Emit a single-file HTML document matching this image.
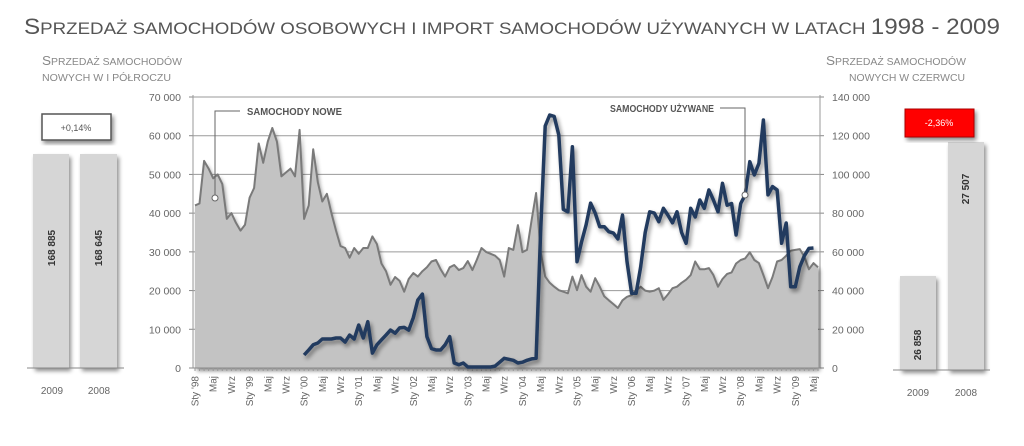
<!DOCTYPE html>
<html><head><meta charset="utf-8">
<style>
html,body{margin:0;padding:0;background:#fff;}
body{width:1024px;height:441px;overflow:hidden;font-family:"Liberation Sans","DejaVu Sans",sans-serif;}
svg text{font-family:"Liberation Sans","DejaVu Sans",sans-serif;}
</style></head>
<body>
<svg id="c" width="1024" height="441" viewBox="0 0 1024 441" xmlns="http://www.w3.org/2000/svg">
<defs>
<filter id="sh" x="-10%" y="-10%" width="130%" height="130%"><feGaussianBlur in="SourceAlpha" stdDeviation="2"/><feOffset dx="2" dy="3" result="b"/><feComponentTransfer><feFuncA type="linear" slope="0.45"/></feComponentTransfer><feMerge><feMergeNode/><feMergeNode in="SourceGraphic"/></feMerge></filter>
</defs>
<text x="24" y="34" fill="#555" font-size="17" textLength="976" lengthAdjust="spacingAndGlyphs"><tspan font-size="22">S</tspan>PRZEDAŻ SAMOCHODÓW OSOBOWYCH I IMPORT SAMOCHODÓW UŻYWANYCH W LATACH <tspan font-size="22">1998 - 2009</tspan></text>

<g>
<text x="42" y="65" fill="#888" font-size="10" textLength="140" lengthAdjust="spacingAndGlyphs"><tspan font-size="13">S</tspan>PRZEDAŻ SAMOCHODÓW</text>
<text x="42" y="81" fill="#888" font-size="10" textLength="129" lengthAdjust="spacingAndGlyphs">NOWYCH W I PÓŁROCZU</text>
<rect x="42" y="114" width="69" height="26" fill="#fff" stroke="#555" stroke-width="1.5" filter="url(#sh)"/>
<text x="76" y="131" fill="#555" font-size="9" text-anchor="middle">+0,14%</text>
<rect x="33" y="154" width="36" height="214" fill="#d6d6d6" filter="url(#sh)"/>
<rect x="80" y="154" width="37" height="214" fill="#d6d6d6" filter="url(#sh)"/>
<line x1="27" y1="368" x2="124" y2="368" stroke="#888" stroke-width="1"/>
<text transform="translate(55,248) rotate(-90)" fill="#333" font-size="10" font-weight="bold" text-anchor="middle">168 885</text>
<text transform="translate(102,248) rotate(-90)" fill="#333" font-size="10" font-weight="bold" text-anchor="middle">168 645</text>
<text x="52" y="394" fill="#666" font-size="10" text-anchor="middle">2009</text>
<text x="99" y="394" fill="#666" font-size="10" text-anchor="middle">2008</text>
</g>

<g>
<text x="826" y="65" fill="#888" font-size="10" textLength="140" lengthAdjust="spacingAndGlyphs"><tspan font-size="13">S</tspan>PRZEDAŻ SAMOCHODÓW</text>
<text x="849" y="81" fill="#888" font-size="10" textLength="116" lengthAdjust="spacingAndGlyphs">NOWYCH W CZERWCU</text>
<rect x="900" y="276" width="36" height="94" fill="#d6d6d6" filter="url(#sh)"/>
<rect x="948" y="142" width="36" height="228" fill="#d6d6d6" filter="url(#sh)"/>
<rect x="905" y="109" width="69" height="28" fill="#f00" stroke="#a00" stroke-width="1" filter="url(#sh)"/>
<text x="939" y="126" fill="#fff" font-size="9" text-anchor="middle">-2,36%</text>
<line x1="893" y1="370" x2="990" y2="370" stroke="#888" stroke-width="1"/>
<text transform="translate(921,345) rotate(-90)" fill="#333" font-size="10" font-weight="bold" text-anchor="middle">26 858</text>
<text transform="translate(969,189) rotate(-90)" fill="#333" font-size="10" font-weight="bold" text-anchor="middle">27 507</text>
<text x="918" y="396" fill="#666" font-size="10" text-anchor="middle">2009</text>
<text x="966" y="396" fill="#666" font-size="10" text-anchor="middle">2008</text>
</g>

<g id="plot"></g>
</svg>
<script>
const newCars = [
42000,42500,53500,51500,49000,50000,47500,38500,40000,37500,35500,37000,
44000,46500,58000,53000,58500,62000,58500,49500,50500,51500,49500,61500,
38500,42000,56500,48000,43000,45000,40000,35500,31500,31000,28500,31000,
29500,31000,31000,34000,32000,27000,25000,21500,23500,22500,19700,23000,
24500,23600,25000,26000,27500,27900,25500,23600,26000,26600,25300,25800,
27600,25300,28000,31000,30000,29500,29000,27900,23600,31000,30500,36900,
29900,30500,38000,45200,30000,23600,22000,21000,20100,19700,19300,23600,
20100,24000,21000,19700,23200,21000,18500,17500,16500,15500,17500,18400,
18800,20000,21000,20000,19700,20000,20600,17600,19000,20600,21000,22000,
22800,24000,27500,25500,25500,25800,24000,21000,23000,24300,24700,27000,
27900,28300,29900,27900,27100,24000,20600,23500,27500,27900,29000,30300,
30500,30700,28700,25500,27100,26000];
const usedCars = [
null,null,null,null,null,null,null,null,null,null,null,null,
null,null,null,null,null,null,null,null,null,null,null,null,
6700,9300,12000,12900,15000,15000,15000,15500,15500,13400,17000,15000,
22200,15500,23900,7700,12000,14500,17000,19600,18000,20700,21000,19600,
26000,35100,38200,16200,10000,9300,9300,12000,16200,2600,1700,2600,
500,500,500,500,500,500,1000,3000,5000,4500,4000,2600,
3000,4000,4700,5000,70000,125000,130700,130000,120400,82000,80700,114300,
54900,65000,74000,85200,80000,73000,73000,70400,69700,66700,79000,55000,
38600,38600,52000,70000,80700,80000,75600,82500,79000,75000,80700,70000,
64400,82500,78000,86800,82500,92000,86800,80700,95400,84100,85000,68700,
85000,89400,106600,99700,105700,128100,89400,93700,92000,64400,74900,42000,
42000,52300,58000,61800,62000,null];
const leftTicks = [0,10000,20000,30000,40000,50000,60000,70000];
const rightTicks = [0,20000,40000,60000,80000,100000,120000,140000];
const monthNames = ["Sty","Maj","Wrz"];
const startYear = 1998;

const NS="http://www.w3.org/2000/svg";
const g=document.getElementById('plot');
const X0=195, X1=818, Y0=368, Y1=97, PL=193, PR=820;
const n=newCars.length;
function xAt(i){return X0+(X1-X0)*i/(n-1);}
function yL(v){return Y0-(Y0-Y1)*v/70000;}
function yR(v){return Y0-(Y0-Y1)*v/140000;}
function fmt(v){return v===0?"0":String(v).replace(/\B(?=(\d{3})+(?!\d))/g," ");}
function mk(tag,attrs){const e=document.createElementNS(NS,tag);for(const k in attrs)e.setAttribute(k,attrs[k]);g.appendChild(e);return e;}

leftTicks.forEach(v=>{
  const y=yL(v);
  if(v>0){const l=mk('line',{x1:PL,y1:y,x2:PR,y2:y,stroke:'#9a9a9a','stroke-width':1});
  
  }
  const tk=mk('line',{x1:PL-4,y1:y,x2:PL,y2:y,stroke:'#888'});
  
  
  const t=mk('text',{x:PL-12,y:y+4,'text-anchor':'end','font-size':10.5,fill:'#666'});
  t.textContent=fmt(v);
  
  
});
rightTicks.forEach(v=>{
  const y=yR(v);
  const tk=mk('line',{x1:PR,y1:y,x2:PR+4,y2:y,stroke:'#888'});
  
  
  const t=mk('text',{x:PR+12,y:y+4,'font-size':10.5,fill:'#666'});
  t.textContent=fmt(v);
  
  
});
const la=mk('line',{x1:PL,y1:Y1-2,x2:PL,y2:Y0,stroke:'#999','stroke-width':1});


const ra=mk('line',{x1:PR,y1:Y1-2,x2:PR,y2:Y0,stroke:'#999','stroke-width':1});



let d='M'+xAt(0)+','+Y0;
newCars.forEach((v,i)=>{d+=' L'+xAt(i).toFixed(1)+','+yL(v).toFixed(1);});
d+=' L'+xAt(n-1)+','+Y0+' Z';
const area=mk('path',{d:d,fill:'#c3c3c3',filter:'url(#sh)'});


let ld='';
newCars.forEach((v,i)=>{ld+=(i?' L':'M')+xAt(i).toFixed(1)+','+yL(v).toFixed(1);});
const aline=mk('path',{d:ld,fill:'none',stroke:'#7a7a7a','stroke-width':2,'stroke-linejoin':'round'});



const xa=mk('line',{x1:PL,y1:Y0,x2:PR,y2:Y0,stroke:'#888'});


for(let i=0;i<n;i++){
  const tk=mk('line',{x1:xAt(i),y1:Y0,x2:xAt(i),y2:Y0+3,stroke:'#999'});
  
  
  if(i%4===0){
    const m=i%12, yr=startYear+Math.floor(i/12);
    const lab=m===0?"Sty '"+String(yr).slice(2):(m===4?"Maj":"Wrz");
    const t=mk('text',{transform:'translate('+(xAt(i)+3.5)+','+(Y0+8)+') rotate(-90)','text-anchor':'end','font-size':10,fill:'#666'});
    t.textContent=lab;
    
    
  }
}

let bd='',pen=false;
usedCars.forEach((v,i)=>{if(v===null){pen=false;return;}bd+=(pen?' L':'M')+xAt(i).toFixed(1)+','+yR(v).toFixed(1);pen=true;});
const bl=mk('path',{d:bd,fill:'none',stroke:'#243a5e','stroke-width':3.5,'stroke-linejoin':'round',filter:'url(#sh)'});



const a1=mk('polyline',{points:'240,111 215,111 215,198',fill:'none',stroke:'#666','stroke-width':1});


const c1=mk('circle',{cx:215,cy:198,r:3,fill:'#fff',stroke:'#666'});


const t1=mk('text',{x:247,y:115,'font-size':10,'font-weight':'bold',fill:'#555',textLength:95,lengthAdjust:'spacingAndGlyphs'});
t1.textContent='SAMOCHODY NOWE';


const a2=mk('polyline',{points:'720,108 745,108 745,195',fill:'none',stroke:'#666','stroke-width':1});


const c2=mk('circle',{cx:745,cy:195,r:3,fill:'#fff',stroke:'#666'});


const t2=mk('text',{x:610,y:112,'font-size':10,'font-weight':'bold',fill:'#555',textLength:104,lengthAdjust:'spacingAndGlyphs'});
t2.textContent='SAMOCHODY UŻYWANE';


</script>
</body></html>
